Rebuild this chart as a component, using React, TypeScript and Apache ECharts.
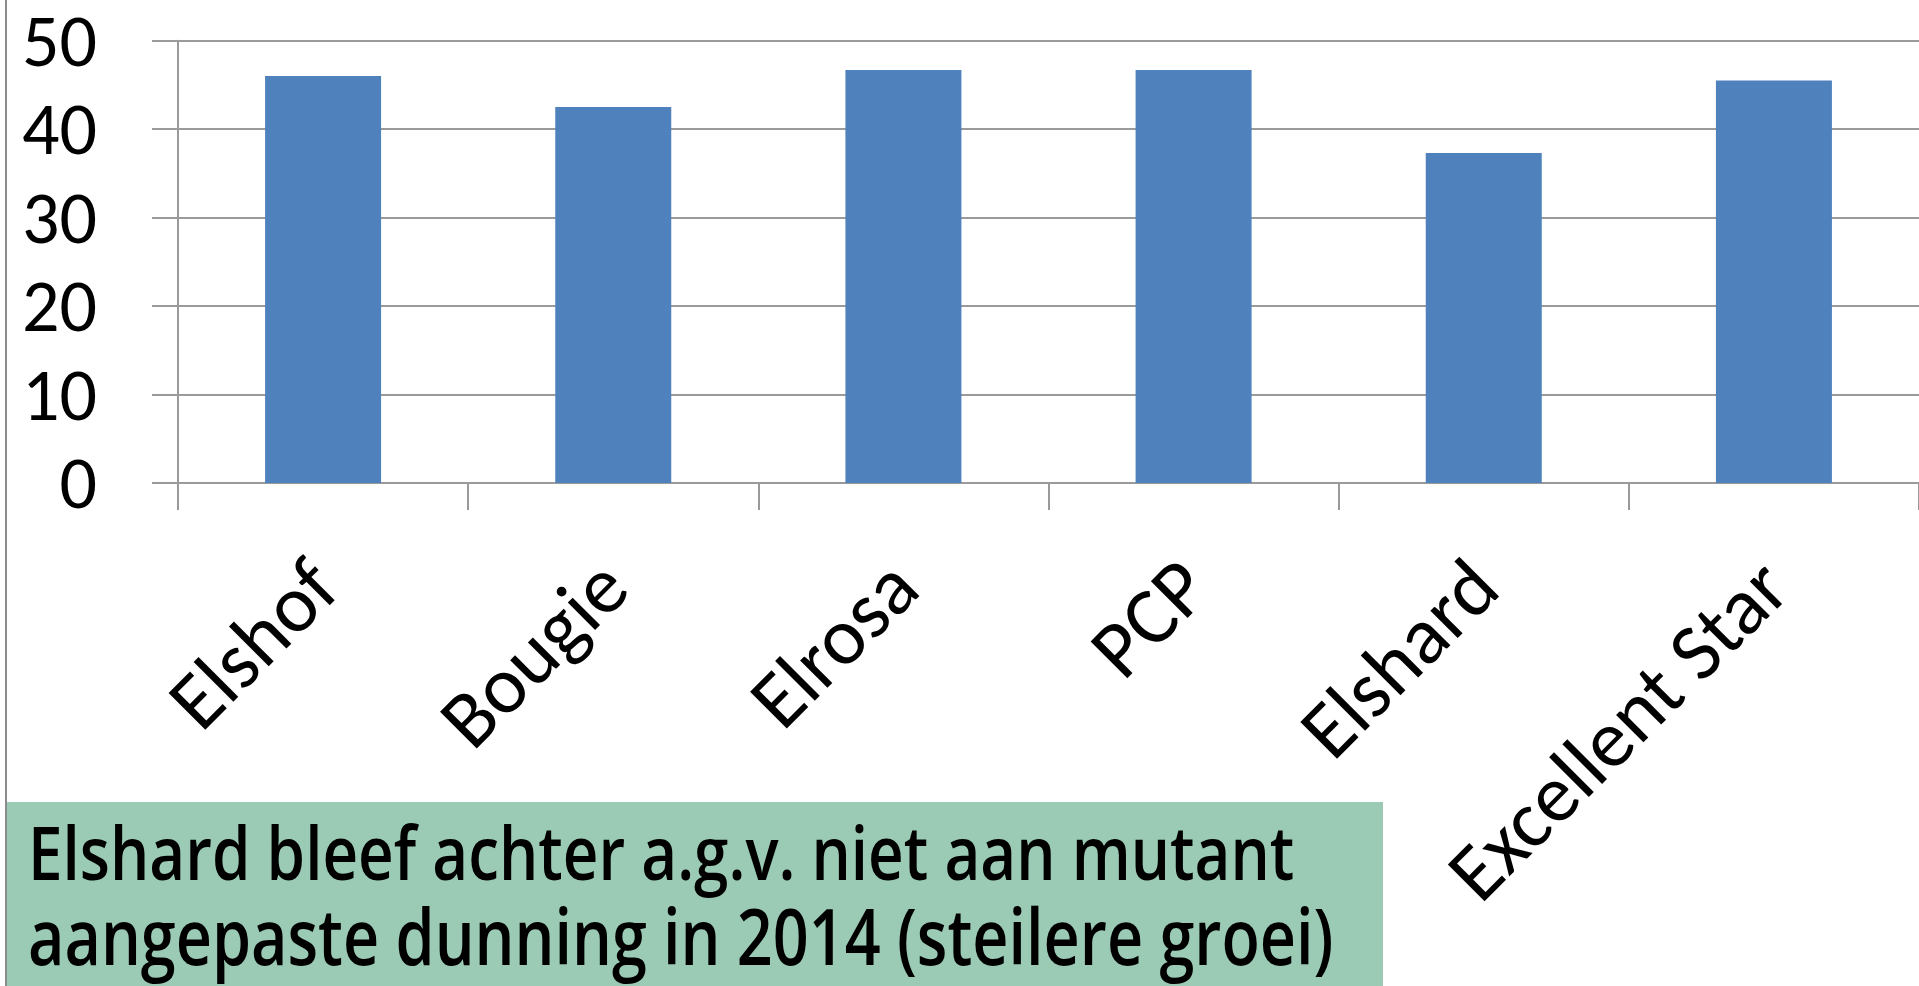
import React, { useEffect, useRef } from "react";
import * as echarts from "echarts";

const categories = ["Elshof", "Bougie", "Elrosa", "PCP", "Elshard", "Excellent Star"];
const values = [46.0, 42.5, 46.7, 46.7, 37.3, 45.5];
const yTicks = { min: 0, max: 50, interval: 10 };
const noteLines = [
  "Elshard bleef achter a.g.v. niet aan mutant",
  "aangepaste dunning in 2014 (steilere groei)",
];

const AXIS_GRAY = "#9a9a9a";
const NOTE_FONT_1 = '600 74px "Open Sans"';
const NOTE_FONT_2 = '600 78px "Open Sans"';

function measure(text: string, font: string): number {
  const c = document.createElement("canvas");
  const ctx = c.getContext("2d");
  if (!ctx) return 1;
  ctx.font = font;
  return ctx.measureText(text).width || 1;
}

export default function App() {
  const ref = useRef<HTMLDivElement>(null);
  useEffect(() => {
    if (!ref.current) return;
    const chart = echarts.init(ref.current, null, { renderer: "svg" });
    const sx1 = 1267 / measure(noteLines[0], NOTE_FONT_1);
    const sx2 = 1306 / measure(noteLines[1], NOTE_FONT_2);
    chart.setOption({
      animation: false,
      backgroundColor: "#ffffff",
      grid: { left: 178, top: 40.7, width: 1746, height: 442.3, containLabel: false },
      xAxis: {
        type: "category",
        data: categories,
        boundaryGap: true,
        axisLine: { show: true, lineStyle: { color: AXIS_GRAY, width: 2 } },
        axisTick: { show: true, interval: 0, length: 27, lineStyle: { color: AXIS_GRAY, width: 2 } },
        axisLabel: {
          interval: 0,
          rotate: 45,
          margin: 90,
          fontSize: 81,
          fontFamily: "Carlito, Lato, sans-serif",
          color: "#000",
        },
      },
      yAxis: {
        type: "value",
        min: yTicks.min,
        max: yTicks.max,
        interval: yTicks.interval,
        axisLine: { show: true, lineStyle: { color: AXIS_GRAY, width: 2 } },
        axisTick: { show: true, length: 26, lineStyle: { color: AXIS_GRAY, width: 2 } },
        splitLine: { show: true, lineStyle: { color: AXIS_GRAY, width: 2 } },
        axisLabel: {
          margin: 81,
          fontSize: 74,
          fontFamily: "Carlito, Lato, sans-serif",
          color: "#000",
        },
      },
      series: [
        {
          type: "bar",
          data: values,
          barWidth: 116,
          itemStyle: { color: "#4f81bd" },
          silent: true,
        },
      ],
      graphic: [
        {
          type: "line",
          shape: { x1: 6, y1: 0, x2: 6, y2: 986 },
          style: { stroke: "#8c8c8c", lineWidth: 2 },
          z: 10,
        },
        {
          type: "rect",
          shape: { x: 7, y: 802, width: 1376, height: 200 },
          style: { fill: "#9bcbb4" },
          z: 5,
        },
        {
          type: "text",
          x: 28,
          y: 806,
          scaleX: sx1,
          z: 6,
          style: {
            text: noteLines[0],
            font: NOTE_FONT_1,
            lineHeight: 90,
            fill: "#000",
            verticalAlign: "top",
            align: "left",
          },
        },
        {
          type: "text",
          x: 28,
          y: 890,
          scaleX: sx2,
          z: 6,
          style: {
            text: noteLines[1],
            font: NOTE_FONT_2,
            lineHeight: 90,
            fill: "#000",
            verticalAlign: "top",
            align: "left",
          },
        },
      ],
    });
    return () => chart.dispose();
  }, []);
  return (
    <div
      ref={ref}
      style={{ position: "fixed", left: 0, top: 0, width: 1919, height: 986 }}
    />
  );
}
